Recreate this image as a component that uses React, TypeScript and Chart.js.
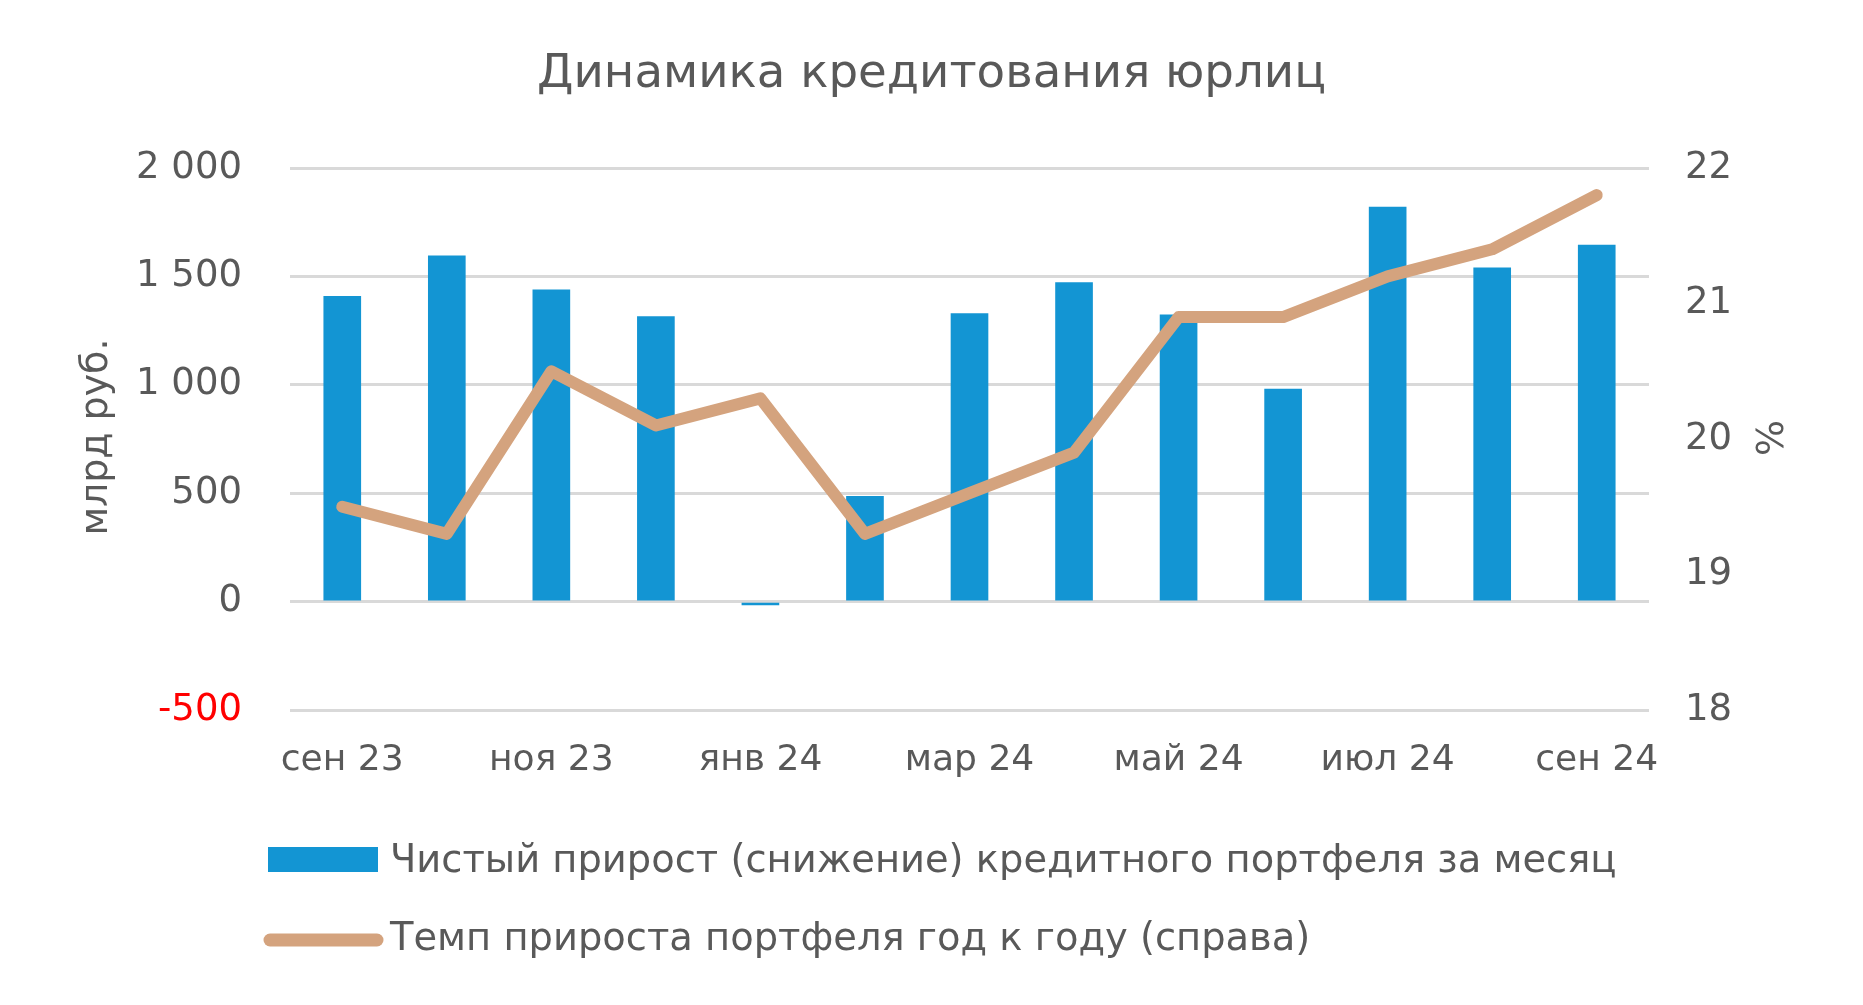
import React, { useEffect, useRef } from "react";
import { Chart, registerables } from "chart.js";

Chart.register(...registerables);

const TITLE = "Динамика кредитования юрлиц";
const months = ["сен 23", "окт 23", "ноя 23", "дек 23", "янв 24", "фев 24", "мар 24", "апр 24", "май 24", "июн 24", "июл 24", "авг 24", "сен 24"];
const netGrowth = [1408, 1595, 1438, 1315, -15, 485, 1328, 1472, 1323, 980, 1820, 1540, 1645];
const yoyRate = [19.5, 19.3, 20.5, 20.1, 20.3, 19.3, 19.6, 19.9, 20.9, 20.9, 21.2, 21.4, 21.8];
const legendLabels = ["Чистый прирост (снижение) кредитного портфеля за месяц", "Темп прироста портфеля год к году (справа)"];
const leftAxisTitle = "млрд руб.";
const rightAxisTitle = "%";

const FONT = '"DejaVu Sans", sans-serif';
const TEXT = "#595959";
const BAR = "#1395d3";
const LINE = "#d4a37e";
const GRID = "#d9d9d9";
const W = 1863;
const H = 1005;

function fitSize(text: string, target: number) {
  const ctx = document.createElement("canvas").getContext("2d")!;
  ctx.font = `100px ${FONT}`;
  return (100 * target) / ctx.measureText(text).width;
}

export default function App() {
  const ref = useRef<HTMLCanvasElement>(null);
  useEffect(() => {
    const titleSize = fitSize(TITLE, 789);
    const legendSize = fitSize(legendLabels[0], 1227);
    const xTickSize = fitSize("сен 23", 123);
    const yTickSize = fitSize("2 000", 106);
    const axisTitleSize = fitSize(leftAxisTitle, 197);

    const overlay = {
      id: "overlay",
      afterDraw(chart: any) {
        const ctx = chart.ctx as CanvasRenderingContext2D;
        ctx.save();
        ctx.fillStyle = TEXT;
        ctx.textBaseline = "alphabetic";
        ctx.font = `${titleSize}px ${FONT}`;
        ctx.textAlign = "center";
        ctx.fillText(TITLE, W / 2, 87);
        ctx.font = `${axisTitleSize}px ${FONT}`;
        ctx.save();
        ctx.translate(107, 437);
        ctx.rotate(-Math.PI / 2);
        ctx.fillText(leftAxisTitle, 0, 0);
        ctx.restore();
        ctx.save();
        ctx.translate(1783, 438);
        ctx.rotate(-Math.PI / 2);
        ctx.fillText(rightAxisTitle, 0, 0);
        ctx.restore();
        ctx.textAlign = "left";
        ctx.font = `${legendSize}px ${FONT}`;
        ctx.fillStyle = BAR;
        ctx.fillRect(268, 847, 110, 25);
        ctx.fillStyle = TEXT;
        ctx.fillText(legendLabels[0], 390, 872);
        ctx.strokeStyle = LINE;
        ctx.lineWidth = 13;
        ctx.lineCap = "round";
        ctx.beginPath();
        ctx.moveTo(270, 940);
        ctx.lineTo(377, 940);
        ctx.stroke();
        ctx.fillText(legendLabels[1], 390, 950);
        ctx.restore();
      },
    };

    const chart = new Chart(ref.current!, {
      type: "bar",
      data: {
        labels: months,
        datasets: [
          {
            type: "line",
            label: legendLabels[1],
            data: yoyRate,
            yAxisID: "y1",
            borderColor: LINE,
            backgroundColor: LINE,
            borderWidth: 12,
            pointRadius: 0,
            borderCapStyle: "round",
            borderJoinStyle: "round",
            tension: 0,
            order: 0,
          } as any,
          {
            type: "bar",
            label: legendLabels[0],
            data: netGrowth,
            yAxisID: "y",
            backgroundColor: BAR,
            borderWidth: 0,
            barThickness: 37,
            order: 1,
          },
        ],
      },
      options: {
        animation: false,
        responsive: true,
        maintainAspectRatio: false,
        devicePixelRatio: 1,
        layout: { padding: { top: 168, left: 0, right: 0, bottom: 0 } },
        plugins: { legend: { display: false }, title: { display: false }, tooltip: { enabled: false } },
        scales: {
          x: {
            grid: { display: false, drawTicks: false },
            border: { display: false },
            ticks: {
              autoSkip: false,
              maxRotation: 0,
              padding: 29,
              color: TEXT,
              font: { family: FONT, size: xTickSize },
              callback: (_v: any, i: number) => (i % 2 === 0 ? months[i] : ""),
            },
            afterFit: (s: any) => {
              s.height = H - 710;
            },
          },
          y: {
            position: "left",
            min: -500,
            max: 2000,
            grid: { color: GRID, lineWidth: 3, drawTicks: false },
            border: { display: false },
            ticks: {
              stepSize: 500,
              padding: 48,
              color: (c: any) => (c.tick && c.tick.value < 0 ? "#ff0000" : TEXT),
              font: { family: FONT, size: yTickSize },
              callback: (v: any) => String(v).replace(/\B(?=(\d{3})+(?!\d))/g, " "),
            },
            afterFit: (s: any) => {
              s.width = 290;
            },
          },
          y1: {
            position: "right",
            min: 18,
            max: 22,
            grid: { display: false, drawTicks: false },
            border: { display: false },
            ticks: {
              stepSize: 1,
              padding: 36,
              color: TEXT,
              font: { family: FONT, size: yTickSize },
            },
            afterFit: (s: any) => {
              s.width = W - 1649;
            },
          },
        },
      },
      plugins: [overlay],
    });
    return () => chart.destroy();
  }, []);

  return (
    <div style={{ position: "absolute", left: 0, top: 0, width: W, height: H, background: "#fff" }}>
      <canvas ref={ref} />
    </div>
  );
}
